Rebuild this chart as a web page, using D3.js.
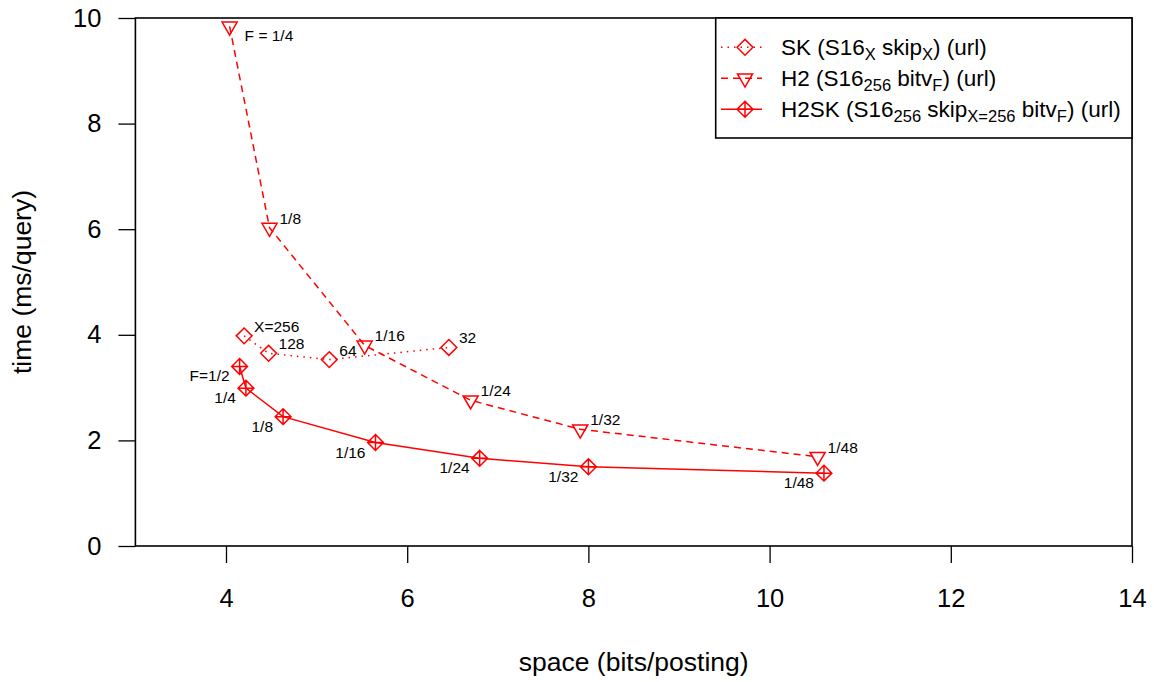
<!DOCTYPE html>
<html>
<head>
<meta charset="utf-8">
<script src="https://cdn.jsdelivr.net/npm/d3@7"></script>
<style>
  html, body { margin: 0; padding: 0; background: #fff; }
  svg { display: block; font-family: "Liberation Sans", Arial, Helvetica, sans-serif; }
</style>
</head>
<body>
<svg id="chart" width="1154" height="682"></svg>
<script>
// ---- data: space (bits/posting) vs. time (ms/query) ----
const skLabels   = ["X=256", "128", "64", "32"];
const skSpace    = [4.20, 4.47, 5.14, 6.46];
const skTime     = [3.98, 3.65, 3.53, 3.76];

const h2Labels   = ["F = 1/4", "1/8", "1/16", "1/24", "1/32", "1/48"];
const h2Space    = [4.04, 4.48, 5.53, 6.70, 7.91, 10.53];
const h2Time     = [9.84, 6.03, 3.80, 2.76, 2.21, 1.69];

const h2skLabels = ["F=1/2", "1/4", "1/8", "1/16", "1/24", "1/32", "1/48"];
const h2skSpace  = [4.15, 4.22, 4.63, 5.65, 6.80, 8.00, 10.60];
const h2skTime   = [3.40, 2.99, 2.45, 1.96, 1.66, 1.50, 1.38];

const xTicks = [4, 6, 8, 10, 12, 14];
const yTicks = [0, 2, 4, 6, 8, 10];

const RED = "#ff0000";
const svg = d3.select("#chart");

const x = d3.scaleLinear().domain([3, 14]).range([135.4, 1132]);
const y = d3.scaleLinear().domain([0, 10]).range([546, 18]);

// ---- marker shapes (open symbols) ----
const s = 5.6;
const diamondPath = `M0,${-1.414*s}L${1.414*s},0L0,${1.414*s}L${-1.414*s},0Z`;
const diamondPlusPath = diamondPath +
  `M${-1.414*s},0L${1.414*s},0M0,${-1.414*s}L0,${1.414*s}`;
const triDownPath = `M0,${1.555*s}L${1.347*s},${-0.7775*s}L${-1.347*s},${-0.7775*s}Z`;

const series = [
  { name: "SK", xs: skSpace, ys: skTime, labels: skLabels, dash: "1.5,5",
    shape: diamondPath, labelSide: "above" },
  { name: "H2", xs: h2Space, ys: h2Time, labels: h2Labels, dash: "7,5",
    shape: triDownPath, labelSide: "above" },
  { name: "H2SK", xs: h2skSpace, ys: h2skTime, labels: h2skLabels, dash: null,
    shape: diamondPlusPath, labelSide: "below" }
];

// ---- axes ----
const xAxis = d3.axisBottom(x).tickValues(xTicks).tickSize(17).tickPadding(26)
  .tickFormat(d3.format("d"));
const yAxis = d3.axisLeft(y).tickValues(yTicks).tickSize(17).tickPadding(17)
  .tickFormat(d3.format("d"));

const gx = svg.append("g").attr("transform", `translate(0,${y(0)})`).call(xAxis);
const gy = svg.append("g").attr("transform", `translate(${x(3)},0)`).call(yAxis);
[gx, gy].forEach(g => {
  g.select(".domain").remove();
  g.selectAll(".tick line").attr("stroke", "#000").attr("stroke-width", 1.3);
  g.selectAll(".tick text").attr("fill", "#000").style("font-size", "25.5px");
});

// plot frame
svg.append("rect")
  .attr("x", x(3)).attr("y", y(10))
  .attr("width", x(14) - x(3)).attr("height", y(0) - y(10))
  .attr("fill", "none").attr("stroke", "#000").attr("stroke-width", 1.6);

// axis titles
svg.append("text")
  .attr("x", (x(3) + x(14)) / 2).attr("y", 671)
  .attr("text-anchor", "middle").style("font-size", "26.5px")
  .text("space (bits/posting)");
svg.append("text")
  .attr("transform", `translate(31,${(y(0) + y(10)) / 2}) rotate(-90)`)
  .attr("text-anchor", "middle").style("font-size", "26.5px")
  .text("time (ms/query)");

// ---- series ----
const line = d3.line().x(d => x(d[0])).y(d => y(d[1]));

series.forEach(sr => {
  const pts = sr.xs.map((v, i) => [v, sr.ys[i]]);
  const g = svg.append("g");
  g.append("path")
    .attr("d", line(pts))
    .attr("fill", "none").attr("stroke", RED).attr("stroke-width", 1.5)
    .attr("stroke-dasharray", sr.dash);
  g.selectAll("path.mk").data(pts).join("path")
    .attr("class", "mk")
    .attr("transform", d => `translate(${x(d[0])},${y(d[1])})`)
    .attr("d", sr.shape)
    .attr("fill", "none").attr("stroke", RED).attr("stroke-width", 1.5);
  g.selectAll("text").data(pts).join("text")
    .each(function (d, i) {
      const px = x(d[0]), py = y(d[1]);
      const t = d3.select(this).style("font-size", "15.5px").text(sr.labels[i]);
      if (sr.labelSide === "below") {
        t.attr("x", px - 10).attr("y", py + 15).attr("text-anchor", "end");
      } else if (py - 12 < y(10) + 10) {
        // no room above the frame top: place label below-right
        t.attr("x", px + 15).attr("y", py + 15).attr("text-anchor", "start");
      } else {
        t.attr("x", px + 10).attr("y", py - 4).attr("text-anchor", "start");
      }
    });
});

// ---- legend ----
const lg = svg.append("g");
lg.append("rect")
  .attr("x", 715.7).attr("y", y(10))
  .attr("width", x(14) - 715.7).attr("height", 120)
  .attr("fill", "#fff").attr("stroke", "#000").attr("stroke-width", 1.6);

const legendRows = [
  { sr: series[0], parts: [["SK (S16", 0], ["X", 1], [" skip", 0], ["X", 1], [") (url)", 0]] },
  { sr: series[1], parts: [["H2 (S16", 0], ["256", 1], [" bitv", 0], ["F", 1], [") (url)", 0]] },
  { sr: series[2], parts: [["H2SK (S16", 0], ["256", 1], [" skip", 0], ["X=256", 1], [" bitv", 0], ["F", 1], [") (url)", 0]] }
];

legendRows.forEach((row, i) => {
  const cy = 47.3 + i * 31;
  lg.append("line")
    .attr("x1", 721).attr("x2", 762).attr("y1", cy).attr("y2", cy)
    .attr("stroke", RED).attr("stroke-width", 1.5)
    .attr("stroke-dasharray", row.sr.dash);
  lg.append("path")
    .attr("transform", `translate(745,${cy})`)
    .attr("d", row.sr.shape)
    .attr("fill", "none").attr("stroke", RED).attr("stroke-width", 1.5);
  const t = lg.append("text").attr("x", 781).attr("y", cy + 8).style("font-size", "22.5px");
  let sub = false;
  row.parts.forEach(([txt, isSub]) => {
    const ts = t.append("tspan").text(txt);
    if (isSub && !sub) { ts.attr("dy", 5).style("font-size", "16.5px"); sub = true; }
    else if (!isSub && sub) { ts.attr("dy", -5); sub = false; }
  });
});
</script>
</body>
</html>
